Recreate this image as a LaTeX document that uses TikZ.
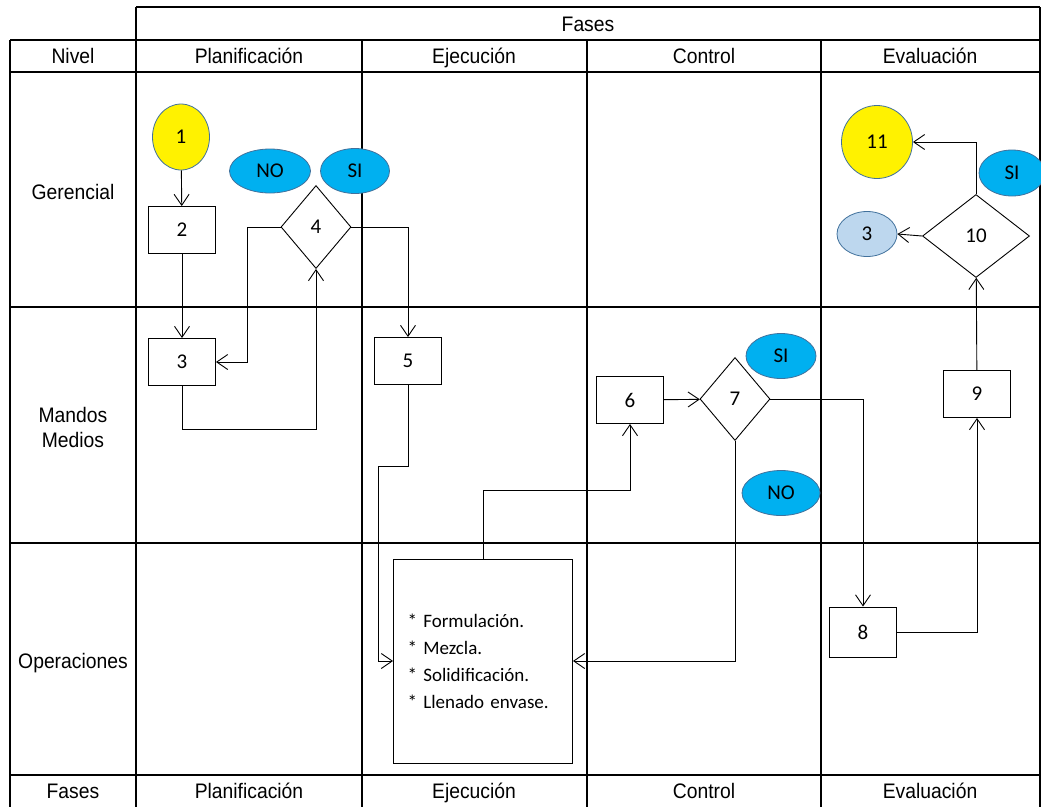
\documentclass[tikz,border=0pt]{standalone}
\usepackage{fontspec}
\setmainfont{Carlito}
\newfontfamily\hdrfont{Liberation Sans}[FakeStretch=0.92]
\usetikzlibrary{arrows.meta, shapes.geometric}
\definecolor{ovalblue}{HTML}{00B0F0}
\definecolor{paleblue}{HTML}{BDD7EE}
\definecolor{ovalline}{HTML}{41719C}

\begin{document}
\begin{tikzpicture}[x=1pt, y=-1pt,
    grid/.style={line width=1.3pt},
    hdr/.style={font=\hdrfont\fontsize{21}{25}\selectfont, text height=17pt, text depth=2pt},
    stepbox/.style={draw, line width=0.9pt, minimum width=67pt, minimum height=47pt, inner sep=0pt, font=\fontsize{21}{25}\selectfont},
    decide/.style={draw, diamond, line width=0.9pt, minimum width=70pt, minimum height=83pt, inner sep=0pt, font=\fontsize{21}{25}\selectfont},
    oval/.style={draw=ovalline, ellipse, line width=0.8pt, inner sep=0pt, font=\fontsize{21}{25}\selectfont},
    flow/.style={line width=0.9pt, -{Straight Barb[length=11pt, width=15pt, line width=0.9pt]}}]
    \useasboundingbox (0,0) rectangle (1041,807);
    % grid
    \draw[grid] (136,7) -- (1040,7);
    \foreach \y in {40,72,307,543,775}
        \draw[grid] (10,\y) -- (1040,\y);
    \draw[grid] (10,40) -- (10,807);
    \foreach \x in {362,587,821}
        \draw[grid] (\x,40) -- (\x,807);
    \draw[grid] (136,7) -- (136,807);
    \draw[grid] (1040,7) -- (1040,807);
    % headings
    \node[hdr] (fases) at (588,24) {Fases};
    \node[hdr] (nivel) at (73,56) {Nivel};
    \node[hdr] (fasesb) at (73,791) {Fases};
    \foreach \x/\t [count=\i] in {249/Planificación, 474/Ejecución, 704/Control, 930/Evaluación} {
        \node[hdr] (top\i) at (\x,56) {\t};
        \node[hdr] (bot\i) at (\x,791) {\t};
    }
    \node[hdr] (gerencial) at (73,192) {Gerencial};
    \node[font=\hdrfont\fontsize{21}{25}\selectfont, align=center] (mandos) at (73,427) {Mandos\\Medios};
    \node[hdr] (operaciones) at (73,661) {Operaciones};

    % steps
    \node[oval, fill=yellow, minimum width=57pt, minimum height=66pt] (e1) at (181,137) {1};
    \node[stepbox] (b2) at (182,230) {2};
    \node[decide] (d4) at (316,227) {4};
    \node[oval, fill=ovalblue, minimum width=81pt, minimum height=44pt] (no4) at (270,171) {NO};
    \node[oval, fill=ovalblue, minimum width=69pt, minimum height=45pt] (si4) at (355,171) {SI};
    \node[stepbox] (b3) at (182,362) {3};
    \node[stepbox] (b5) at (408,361) {5};
    \node[draw, line width=0.9pt, minimum height=204pt, text width=151pt, inner xsep=14pt, align=left, font=\fontsize{19}{27}\selectfont] (ops) at (483,661)
        {* Formulación.\\{*} Mezcla.\\{*} Solidificación.\\{*} Llenado envase.};
    \node[stepbox] (b6) at (630,400) {6};
    \node[decide] (d7) at (735,399) {7};
    \node[oval, fill=ovalblue, minimum width=70pt, minimum height=45pt] (si7) at (781,356) {SI};
    \node[oval, fill=ovalblue, minimum width=78pt, minimum height=45pt] (no7) at (781,493) {NO};
    \node[stepbox, minimum height=50pt] (b8) at (863,632) {8};
    \node[stepbox] (b9) at (977,394) {9};
    \node[decide, minimum width=107pt] (d10) at (976,236) {10};
    \node[oval, fill=paleblue, minimum width=60pt, minimum height=45pt] (e3) at (867,234) {3};
    \node[oval, fill=yellow, minimum width=71pt, minimum height=73pt] (e11) at (877,142) {11};
    \node[oval, fill=ovalblue, minimum width=66pt, minimum height=46pt] (si10) at (1012,173) {SI};

    % connectors
    \draw[flow] (e1) -- (b2);
    \draw[flow] (b2) -- (b3);
    \draw[flow] (d4.west) -- ++(-33,0) |- (b3.east);
    \draw[flow] (d4.east) -| (b5.north);
    \draw[flow] (b3.south) -- ++(0,43) -| (d4.south);
    \draw[flow] (b5.south) |- ++(-30,81) |- (ops.west);
    \draw[flow] (ops.north) -- ++(0,-68) -| (b6.south);
    \draw[flow] (b6) -- (d7);
    \draw[flow] (d7.east) -| (b8.north);
    \draw[flow] (d7.south) |- (ops.east);
    \draw[flow] (b8.east) -| (b9.south);
    \draw[flow] (b9) -- (d10);
    \draw[flow] (d10.west) -- (e3.east);
    \draw[flow] (d10.north) |- (e11.east);
\end{tikzpicture}
\end{document}
